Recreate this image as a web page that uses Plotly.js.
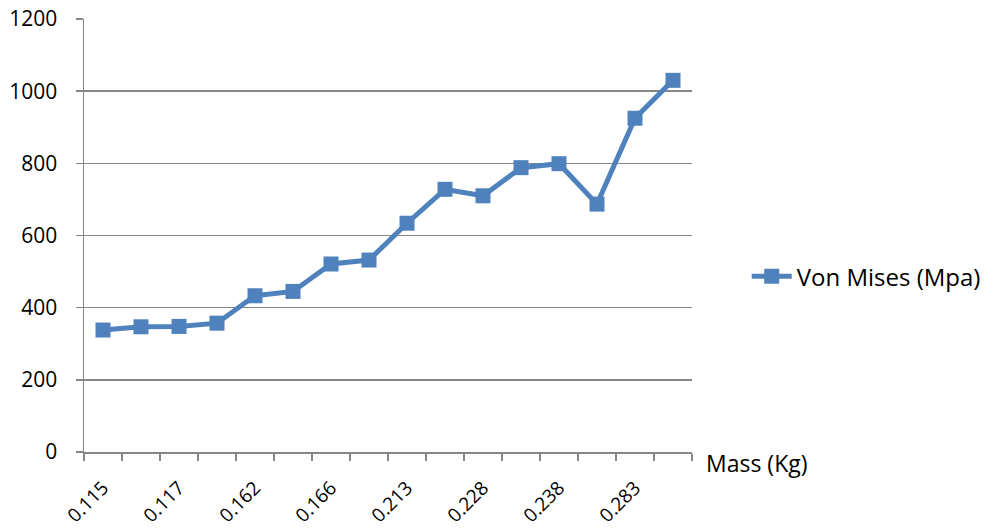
<!DOCTYPE html>
<html>
<head>
<meta charset="utf-8">
<script src="https://cdn.plot.ly/plotly-3.0.1.min.js"></script>
<style>
  html, body { margin: 0; padding: 0; background: #fff; }
  #chart { width: 1005px; height: 529px; }
</style>
</head>
<body>
<div id="chart"></div>
<script>
// Von Mises stress for each sample, in order of increasing mass
const sampleIndex = [0, 1, 2, 3, 4, 5, 6, 7, 8, 9, 10, 11, 12, 13, 14, 15];
const vonMises = [338, 347, 348, 357, 433, 445, 521, 532, 634, 728, 710, 788, 799, 687, 925, 1030];

// Mass labels shown under every other sample
const massTickPos = [0, 2, 4, 6, 8, 10, 12, 14];
const massTickText = ['0.115', '0.117', '0.162', '0.166', '0.213', '0.228', '0.238', '0.283'];

const yTicks = [0, 200, 400, 600, 800, 1000, 1200];

const seriesName = 'Von Mises (Mpa)';
const xTitle = 'Mass (Kg)';

const gridColor = '#868686';
const lineColor = '#4F81BD';
const fontFamily = '"Open Sans", "Liberation Sans", sans-serif';

const xRange = [-0.5, sampleIndex.length - 0.5];

const trace = {
  x: sampleIndex,
  y: vonMises,
  type: 'scatter',
  mode: 'lines+markers',
  name: seriesName,
  line: { color: lineColor, width: 5 },
  marker: { symbol: 'square', size: 15, color: lineColor }
};

const layout = {
  width: 1005,
  height: 529,
  margin: { l: 84, r: 313, t: 19, b: 77 },
  paper_bgcolor: '#ffffff',
  plot_bgcolor: '#ffffff',
  font: { family: fontFamily, size: 21, color: '#000000' },
  showlegend: true,
  legend: {
    x: 1.09, xanchor: 'left',
    y: 0.405, yanchor: 'middle',
    font: { family: fontFamily, size: 24, color: '#000000' },
    bgcolor: 'rgba(0,0,0,0)',
    itemwidth: 40
  },
  xaxis: {
    range: xRange,
    tickmode: 'linear',
    tick0: -0.5,
    dtick: 1,
    showticklabels: false,
    ticks: 'outside',
    ticklen: 7,
    tickwidth: 1.5,
    tickcolor: gridColor,
    showgrid: false,
    zeroline: false,
    showline: true,
    linecolor: gridColor,
    linewidth: 1.5,
    fixedrange: true
  },
  xaxis2: {
    overlaying: 'x',
    side: 'bottom',
    range: xRange,
    tickmode: 'array',
    tickvals: massTickPos,
    ticktext: massTickText,
    tickangle: -45,
    ticks: '',
    ticklabelstandoff: 20,
    showgrid: false,
    zeroline: false,
    showline: false,
    tickfont: { family: fontFamily, size: 19, color: '#000000' },
    fixedrange: true
  },
  yaxis: {
    range: [0, 1200],
    tickmode: 'array',
    tickvals: yTicks,
    ticks: 'outside',
    ticklen: 7,
    tickwidth: 1.5,
    tickcolor: gridColor,
    ticklabelstandoff: 14,
    showgrid: true,
    gridcolor: gridColor,
    gridwidth: 1.5,
    zeroline: false,
    showline: true,
    linecolor: gridColor,
    linewidth: 1.5,
    tickfont: { family: fontFamily, size: 21, color: '#000000' },
    fixedrange: true
  },
  annotations: [{
    text: xTitle,
    xref: 'paper', yref: 'paper',
    x: 1.02, y: -0.025,
    xanchor: 'left', yanchor: 'middle',
    showarrow: false,
    font: { family: fontFamily, size: 23, color: '#000000' }
  }]
};

// Invisible companion trace that carries the mass tick labels
const labelTrace = {
  x: massTickPos,
  y: massTickPos.map(() => null),
  xaxis: 'x2',
  type: 'scatter',
  mode: 'markers',
  showlegend: false,
  hoverinfo: 'skip'
};

Plotly.newPlot('chart', [trace, labelTrace], layout, { displayModeBar: false, staticPlot: true });
</script>
</body>
</html>
